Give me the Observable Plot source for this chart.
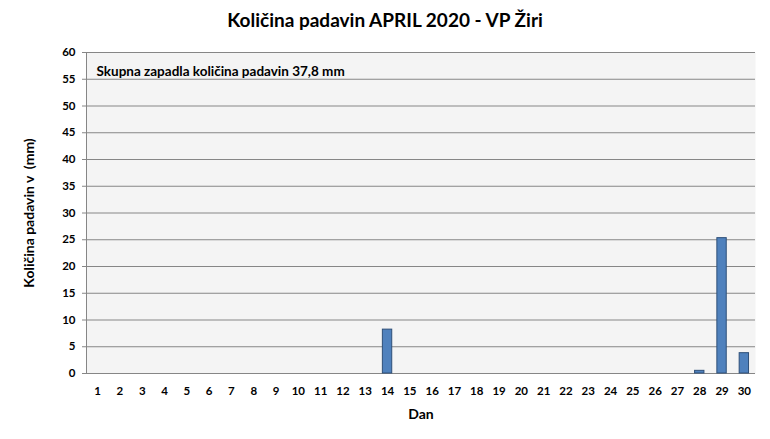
<!DOCTYPE html>
<html>
<head>
<meta charset="utf-8">
<script src="https://cdn.jsdelivr.net/npm/d3@7"></script>
<script src="https://cdn.jsdelivr.net/npm/@observablehq/plot@0.6"></script>
<style>
  html, body { margin: 0; padding: 0; background: #fff; }
  #wrap { width: 770px; height: 439px; position: relative; font-family: Lato, "Open Sans", sans-serif; }
  #title { position: absolute; left: 0; top: 8px; width: 770px; text-align: center; font-weight: bold; font-size: 19px; color: #000; }
  #chart { position: absolute; left: 0; top: 45px; }
</style>
</head>
<body>
<div id="wrap">
  <div id="title">Količina padavin APRIL 2020 - VP Žiri</div>
  <div id="chart"></div>
</div>
<script>
const days = d3.range(1, 31);
const rainDays = [14, 28, 29, 30];
const rainValues = [8.2, 0.5, 25.3, 3.8];
const yTicks = [0, 5, 10, 15, 20, 25, 30, 35, 40, 45, 50, 55, 60];
const yLabel = "Količina padavin v  (mm)";
const xLabel = "Dan";
const note = "Skupna zapadla količina padavin 37,8 mm";

const data = days.map(d => {
  const i = rainDays.indexOf(d);
  return {day: d, value: i >= 0 ? rainValues[i] : 0};
});

const W = 770, H = 394;
const mL = 86, mR = 15, mT = 7, mB = 66;

// left axis line, drawn from the y scale
const leftAxisLine = (index, scales, values, dims) => {
  const g = d3.create("svg:g");
  g.append("line")
    .attr("x1", dims.marginLeft + 0.5).attr("x2", dims.marginLeft + 0.5)
    .attr("y1", scales.y(60)).attr("y2", scales.y(0))
    .attr("stroke", "#868686");
  return g.node();
};

const chart = Plot.plot({
  width: W,
  height: H,
  marginLeft: mL,
  marginRight: mR,
  marginTop: mT,
  marginBottom: mB,
  style: {fontFamily: "Lato, 'Open Sans', sans-serif", fontSize: "12px", fontWeight: "bold", color: "#000", background: "#fff"},
  x: {type: "band", domain: days, paddingInner: 0.58, paddingOuter: 0.29, round: false, label: null, axis: null},
  y: {domain: [0, 60], label: null, axis: null},
  marks: [
    Plot.frame({fill: "#f4f4f4", stroke: null}),
    Plot.gridY(yTicks, {stroke: "#868686", strokeOpacity: 1, strokeWidth: 1}),
    Plot.axisY(yTicks, {tickSize: 4, tickPadding: 7, stroke: "#868686", fontSize: 11.5, fontWeight: "bold", tickFormat: d => String(d)}),
    leftAxisLine,
    Plot.axisX(days, {tickSize: 0, tickPadding: 13, fontSize: 11.5, fontWeight: "bold", label: null}),
    Plot.barY(data.filter(d => d.value > 0), {x: "day", y: "value", fill: "#4f81bd", stroke: "#2e4f78", strokeWidth: 1}),
    Plot.text([note], {frameAnchor: "top-left", dx: 10, dy: 14, fontSize: 13.5, fontWeight: "bold", textAnchor: "start"}),
    Plot.text([xLabel], {frameAnchor: "bottom", dy: 45, fontSize: 14, fontWeight: "bold"}),
    Plot.text([yLabel], {frameAnchor: "left", dx: -57, rotate: -90, textAnchor: "middle", fontSize: 14, fontWeight: "bold"})
  ]
});
document.getElementById("chart").appendChild(chart);
</script>
</body>
</html>
